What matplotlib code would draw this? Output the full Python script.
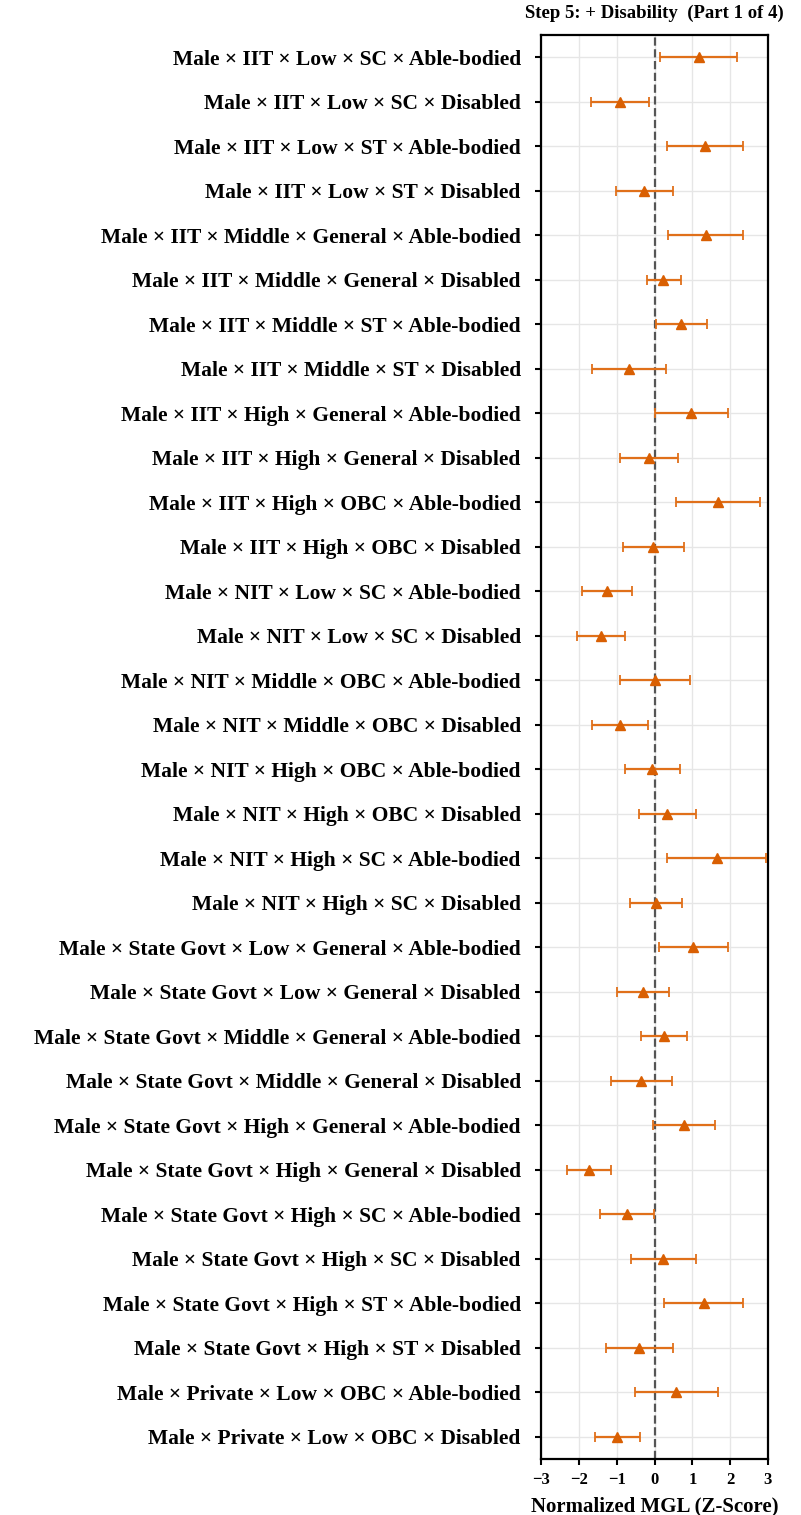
import matplotlib.pyplot as plt
import numpy as np

plt.rcParams['font.family'] = ['Liberation Serif', 'DejaVu Serif']

labels = [
    "Male × IIT × Low × SC × Able-bodied",
    "Male × IIT × Low × SC × Disabled",
    "Male × IIT × Low × ST × Able-bodied",
    "Male × IIT × Low × ST × Disabled",
    "Male × IIT × Middle × General × Able-bodied",
    "Male × IIT × Middle × General × Disabled",
    "Male × IIT × Middle × ST × Able-bodied",
    "Male × IIT × Middle × ST × Disabled",
    "Male × IIT × High × General × Able-bodied",
    "Male × IIT × High × General × Disabled",
    "Male × IIT × High × OBC × Able-bodied",
    "Male × IIT × High × OBC × Disabled",
    "Male × NIT × Low × SC × Able-bodied",
    "Male × NIT × Low × SC × Disabled",
    "Male × NIT × Middle × OBC × Able-bodied",
    "Male × NIT × Middle × OBC × Disabled",
    "Male × NIT × High × OBC × Able-bodied",
    "Male × NIT × High × OBC × Disabled",
    "Male × NIT × High × SC × Able-bodied",
    "Male × NIT × High × SC × Disabled",
    "Male × State Govt × Low × General × Able-bodied",
    "Male × State Govt × Low × General × Disabled",
    "Male × State Govt × Middle × General × Able-bodied",
    "Male × State Govt × Middle × General × Disabled",
    "Male × State Govt × High × General × Able-bodied",
    "Male × State Govt × High × General × Disabled",
    "Male × State Govt × High × SC × Able-bodied",
    "Male × State Govt × High × SC × Disabled",
    "Male × State Govt × High × ST × Able-bodied",
    "Male × State Govt × High × ST × Disabled",
    "Male × Private × Low × OBC × Able-bodied",
    "Male × Private × Low × OBC × Disabled",
]

means = [1.17, -0.92, 1.33, -0.27, 1.37, 0.23, 0.71, -0.67, 0.97, -0.14, 1.68, -0.03,
         -1.26, -1.42, 0.01, -0.91, -0.06, 0.33, 1.65, 0.03, 1.02, -0.30, 0.24, -0.36,
         0.78, -1.73, -0.73, 0.23, 1.30, -0.41, 0.58, -0.98]
lows = [0.14, -1.68, 0.33, -1.02, 0.37, -0.21, 0.04, -1.64, 0.00, -0.90, 0.58, -0.82,
        -1.91, -2.04, -0.92, -1.66, -0.78, -0.41, 0.33, -0.65, 0.11, -0.98, -0.36, -1.16,
        -0.03, -2.31, -1.44, -0.63, 0.25, -1.28, -0.52, -1.56]
highs = [2.18, -0.15, 2.33, 0.48, 2.35, 0.70, 1.38, 0.31, 1.95, 0.62, 2.78, 0.78,
         -0.60, -0.78, 0.95, -0.16, 0.67, 1.09, 2.95, 0.72, 1.95, 0.38, 0.85, 0.45,
         1.61, -1.15, -0.01, 1.11, 2.34, 0.48, 1.68, -0.39]

means = np.array(means)
xerr = [means - np.array(lows), np.array(highs) - means]
y = np.arange(len(labels))

fig = plt.figure(figsize=(8.01, 15.15), dpi=100)
ax = fig.add_axes([541 / 801, 1 - 1459 / 1515, 227 / 801, 1424 / 1515])

ax.errorbar(means, y, xerr=xerr, fmt='^', color='#D95F02', ecolor='#E0701A',
            elinewidth=1.6, capsize=3.5, capthick=1.3, markersize=7.5, zorder=3)
ax.axvline(0, color='#555555', linestyle='--', linewidth=1.6, zorder=2)

ax.set_yticks(y)
ax.set_yticklabels(labels, fontsize=15.5, fontweight='bold')
ax.set_ylim(len(labels) - 0.5, -0.5)
ax.set_xlim(-3, 3)
ax.set_xticks([-3, -2, -1, 0, 1, 2, 3])
ax.set_xticklabels(['\u22123', '\u22122', '\u22121', '0', '1', '2', '3'], fontsize=12, fontweight='bold')
ax.grid(True, color='#e6e6e6', linewidth=1, zorder=0)
ax.set_axisbelow(True)
for s in ax.spines.values():
    s.set_linewidth(1.6)
ax.tick_params(axis='both', width=1.5, length=4.5)
ax.tick_params(axis='y', pad=10)
ax.tick_params(axis='x', pad=5)

ax.set_xlabel("Normalized MGL (Z-Score)", fontsize=15, fontweight='bold', labelpad=6)
ax.set_title("Step 5: + Disability  (Part 1 of 4)", fontsize=13.5, fontweight='bold', pad=12)

fig.savefig('out.png', dpi=100)
